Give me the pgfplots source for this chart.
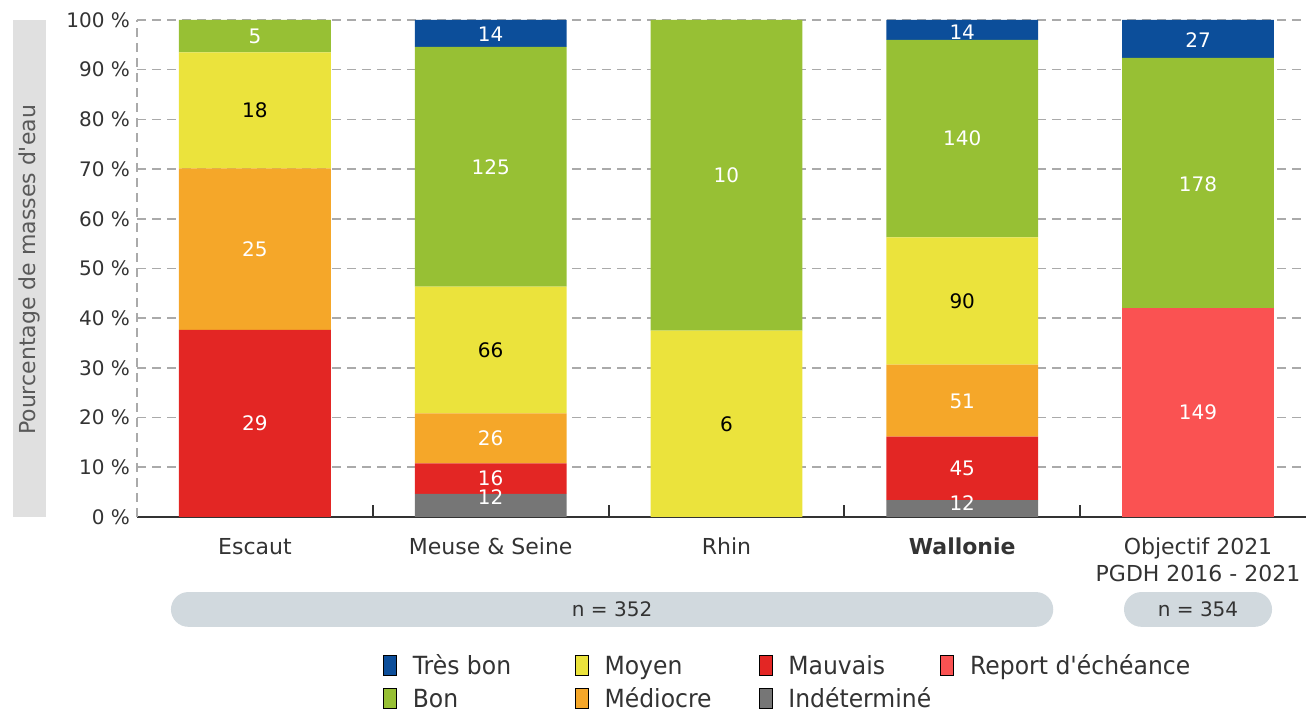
\documentclass[border=0pt]{standalone}
\usepackage{fontspec}
\setmainfont{DejaVu Sans}
\newfontfamily\plainfont{DejaVu Sans}
\newfontfamily\condfont[FakeStretch=0.94]{DejaVu Sans}
\usepackage{pgfplots}
\pgfplotsset{compat=1.18}
\definecolor{cTB}{HTML}{0C4E9A}
\definecolor{cBon}{HTML}{97C034}
\definecolor{cMoy}{HTML}{EBE33C}
\definecolor{cMed}{HTML}{F5A729}
\definecolor{cMau}{HTML}{E32624}
\definecolor{cInd}{HTML}{767676}
\definecolor{cRep}{HTML}{FA5252}
\definecolor{gridc}{HTML}{AAAAAA}
\definecolor{txt}{HTML}{333333}
\definecolor{nbox}{HTML}{D1D9DE}
\definecolor{ybox}{HTML}{E0E0E0}

% 1px = 0.5pt, image 1306x711 px
\pgfplotsset{
  common/.style={
    at={(68.5pt,97pt)}, anchor=south west,
    scale only axis, width=584.5pt, height=248.5pt,
    xmin=-0.5, xmax=4.458, ymin=0, ymax=100,
    clip=false,
  },
}

\begin{document}
\begin{tikzpicture}
\begin{axis}[
  common,
  ybar stacked, bar width=0.644,
  axis x line*=bottom, axis y line*=left,
  x axis line style={draw=txt, line width=1.2pt, -},
  y axis line style={draw=gridc, line width=0.8pt, dash pattern=on 4.5pt off 3pt, -},
  ytick={0,10,...,100},
  yticklabel={\pgfmathprintnumber{\tick}\ \%},
  /pgf/number format/assume math mode=true,
  yticklabel style={font=\fontsize{10}{12}\selectfont, text=txt},
  ytick style={draw=none},
  ymajorgrids,
  grid style={draw=gridc, line width=0.8pt, dash pattern=on 4.5pt off 3pt},
  xtick={0.5,1.5,2.5,3.5}, xticklabels={},
  major tick length=6pt, tick align=inside,
  xtick style={draw=txt, line width=1pt},
  extra x ticks={0,1,2,3,4},
  extra x tick labels={Escaut, Meuse \& Seine, Rhin, \textbf{Wallonie}, {Objectif 2021\\PGDH 2016 - 2021}},
  extra x tick style={major tick length=0pt},
  xticklabel style={font=\fontsize{11}{13.5}\selectfont, align=center, yshift=-7pt, text=txt},
]
% percentages of water bodies per class (stack: bottom to top)
\addplot[fill=cRep, draw=none] coordinates {(0,0) (1,0) (2,0) (3,0) (4,42.090)};
\addplot[fill=cInd, draw=none] coordinates {(0,0) (1,4.633) (2,0) (3,3.409) (4,0)};
\addplot[fill=cMau, draw=none] coordinates {(0,37.662) (1,6.178) (2,0) (3,12.784) (4,0)};
\addplot[fill=cMed, draw=none] coordinates {(0,32.468) (1,10.039) (2,0) (3,14.489) (4,0)};
\addplot[fill=cMoy, draw=none] coordinates {(0,23.377) (1,25.483) (2,37.5) (3,25.568) (4,0)};
\addplot[fill=cBon, draw=none] coordinates {(0,6.494) (1,48.263) (2,62.5) (3,39.773) (4,50.282)};
\addplot[fill=cTB, draw=none] coordinates {(0,0) (1,5.405) (2,0) (3,3.977) (4,7.627)};
\end{axis}

% counts (labels), decorations and legend
\begin{axis}[
  common,
  hide axis,
  legend columns=4,
  legend cell align=left,
  legend style={at={(0.2104,-0.2737)}, anchor=north west, draw=none, fill=none,
    inner sep=0pt, outer sep=0pt, column sep=0pt, row sep=4.5pt,
    font=\condfont\fontsize{12.5}{14}\selectfont, text=txt,
    nodes={inner sep=1pt, text height=9.5pt, text depth=0.5pt}},
  legend image code/.code={\fill[#1] (0pt,-5pt) rectangle (6.5pt,5pt); \path (13.5pt,0pt);},
  nodes near coords, point meta=explicit symbolic,
  nodes near coords align={center},
  every node near coord/.append style={font=\fontsize{10}{12}\selectfont, anchor=center},
]
\fill[ybox] (axis cs:-1.025,0) rectangle (axis cs:-0.886,100);
\fill[nbox, rounded corners=8.7pt] (axis cs:-0.356,-15.1) rectangle (axis cs:3.386,-22.1);
\fill[nbox, rounded corners=8.7pt] (axis cs:3.686,-15.1) rectangle (axis cs:4.314,-22.1);
\path (axis cs:-0.9555,49.7) node[rotate=90, text=black!65, font=\plainfont\fontsize{11}{13}\selectfont] {Pourcentage de masses d'eau};
\path (axis cs:1.515,-18.6) node[text=txt, font=\fontsize{10}{12}\selectfont] {n = 352};
\path (axis cs:4.0,-18.6) node[text=txt, font=\fontsize{10}{12}\selectfont] {n = 354};

\addplot[forget plot, only marks, mark=*, mark size=0pt, mark options={draw=none, fill=none},
  every node near coord/.append style={text=white}] coordinates {
  (0,18.83) [29] (0,53.90) [25] (0,96.75) [5]
  (1,4.0) [12] (1,7.85) [16] (1,15.95) [26] (1,70.46) [125] (1,97.2) [14]
  (2,68.75) [10]
  (3,2.8) [12] (3,9.8) [45] (3,23.3) [51] (3,76.14) [140] (3,97.6) [14]
  (4,21.1) [149] (4,67.0) [178] (4,96.0) [27]
};
\addplot[forget plot, only marks, mark=*, mark size=0pt, mark options={draw=none, fill=none},
  every node near coord/.append style={text=black}] coordinates {
  (0,81.8) [18] (1,33.6) [66] (2,18.75) [6] (3,43.5) [90]
};
\addlegendimage{fill=cTB}
\addlegendentry{\makebox[80pt][l]{Très bon}}
\addlegendimage{fill=cMoy}
\addlegendentry{\makebox[76pt][l]{Moyen}}
\addlegendimage{fill=cMau}
\addlegendentry{\makebox[75pt][l]{Mauvais}}
\addlegendimage{fill=cRep}
\addlegendentry{Report d'échéance}
\addlegendimage{fill=cBon}
\addlegendentry{Bon}
\addlegendimage{fill=cMed}
\addlegendentry{Médiocre}
\addlegendimage{fill=cInd}
\addlegendentry{Indéterminé}
\end{axis}
\pgfresetboundingbox
\path (0,0) rectangle (653pt,355.5pt);
\end{tikzpicture}
\end{document}
